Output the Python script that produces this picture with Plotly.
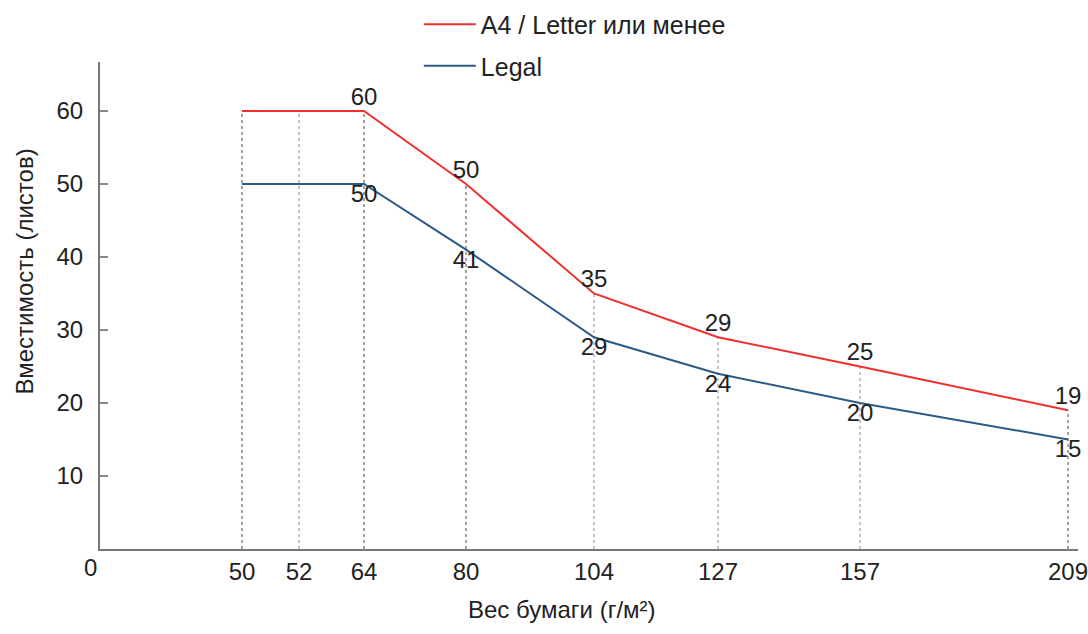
import plotly.graph_objects as go

# paper weight categories (g/m2) and their slot on the (non-linear) x axis
weights = [50, 52, 64, 80, 104, 127, 157, 209]
x_slots = [142, 199, 264, 366, 494, 618, 760, 968]

# capacity, sheets
a4_letter = [60, 60, 60, 50, 35, 29, 25, 19]
legal = [50, 50, 50, 41, 29, 24, 20, 15]
# which points carry a value label
labelled = [False, False, True, True, True, True, True, True]

RED = "#f0302f"
BLUE = "#2c5a86"
FONT = "Liberation Sans"
INK = "#222222"

fig = go.Figure()

# vertical guide lines from the axis up to the A4 curve
dark = {50, 64, 80, 209}
for keep in (True, False):
    xs, ys = [], []
    for w, xp, top in zip(weights, x_slots, a4_letter):
        if (w in dark) == keep:
            xs += [xp, xp, None]
            ys += [0, top, None]
    fig.add_trace(go.Scatter(
        x=xs, y=ys, mode="lines", showlegend=False, hoverinfo="skip",
        line=dict(color="#444444" if keep else "#c4c4c4",
                  width=1 if keep else 2, dash="3px,3px"),
    ))

fig.add_trace(go.Scatter(
    x=x_slots, y=a4_letter, mode="lines+text", name="A4 / Letter или менее",
    legendgroup="a4", cliponaxis=False,
    line=dict(color=RED, width=2),
    text=[str(v) if f else "" for v, f in zip(a4_letter, labelled)],
    textposition="top center",
    textfont=dict(family=FONT, size=24, color=INK),
))
fig.add_trace(go.Scatter(
    x=x_slots, y=legal, mode="lines+text", name="Legal",
    legendgroup="legal", cliponaxis=False,
    line=dict(color=BLUE, width=2),
    text=[str(v) if f else "" for v, f in zip(legal, labelled)],
    textposition="bottom center",
    textfont=dict(family=FONT, size=24, color=INK),
))

fig.add_annotation(
    x=0, y=0, xref="x", yref="y", text="0", showarrow=False,
    xanchor="right", yanchor="top", xshift=-1, yshift=-3,
    font=dict(family=FONT, size=24, color=INK),
)
fig.add_annotation(
    x=-0.077, y=0.569, xref="paper", yref="paper",
    xanchor="center", yanchor="middle",
    text="Вместимость (листов)", textangle=-90, showarrow=False,
    font=dict(family=FONT, size=24, color=INK),
)
fig.add_annotation(
    x=0.472, y=-0.125, xref="paper", yref="paper",
    xanchor="center", yanchor="middle",
    text="Вес бумаги (г/м²)", showarrow=False,
    font=dict(family=FONT, size=24, color=INK),
)

fig.update_layout(
    width=1088, height=634,
    margin=dict(l=100, r=10, t=62, b=85, autoexpand=False),
    plot_bgcolor="white", paper_bgcolor="white",
    font=dict(family=FONT, size=24, color=INK),
    showlegend=True,
    legend=dict(x=0.326, y=1.124, xanchor="left", yanchor="top",
                tracegroupgap=6, itemwidth=52, font=dict(size=25),
                bgcolor="rgba(0,0,0,0)"),
    xaxis=dict(
        range=[0, 978], showgrid=False, zeroline=False, automargin=False,
        tickvals=x_slots, ticktext=[str(w) for w in weights],
        ticks="", showline=True, linecolor="#777777", linewidth=2,
        ticklabelstandoff=0, ticklabeloverflow="allow",
    ),
    yaxis=dict(
        range=[0, 66.7], showgrid=False, zeroline=False, automargin=False,
        tickvals=[10, 20, 30, 40, 50, 60],
        ticks="inside", ticklen=8, tickcolor="#888888", tickwidth=2,
        showline=True, linecolor="#777777", linewidth=2,
        ticklabelstandoff=10,
    ),
)

# the page body has a default 8px margin; drop it so the figure sits at 0,0
fig.write_html("out.html", config={"displayModeBar": False},
               post_script="document.body.style.margin = '0';")
